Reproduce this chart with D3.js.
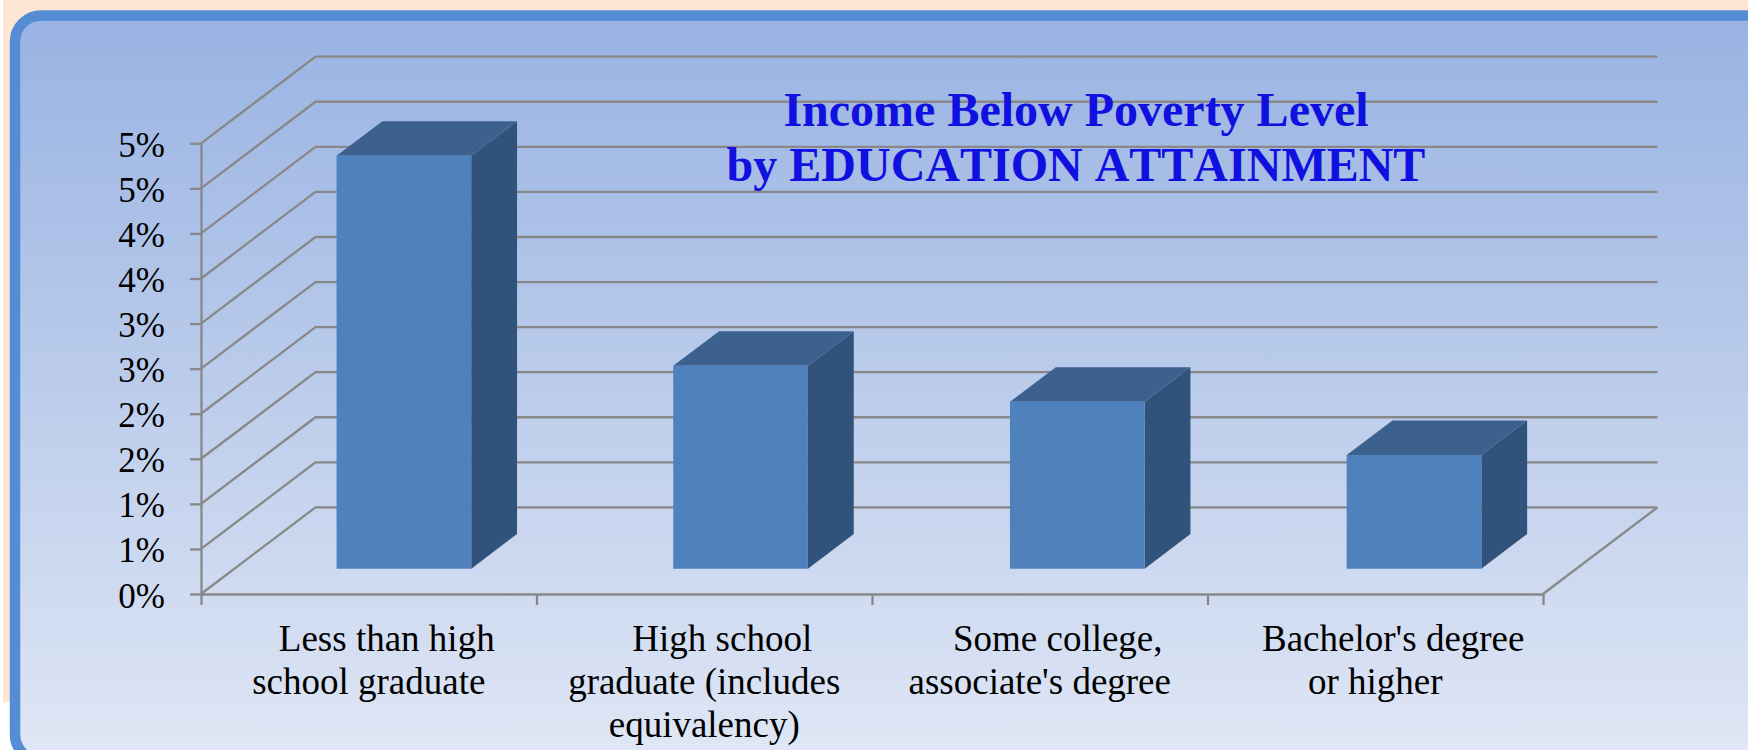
<!DOCTYPE html>
<html>
<head>
<meta charset="utf-8">
<script src="https://cdn.jsdelivr.net/npm/d3@7"></script>
<style>
html,body{margin:0;padding:0;background:#fff;overflow:hidden}
svg{display:block}
text{font-family:"Liberation Serif",serif;font-kerning:none}
</style>
</head>
<body>
<svg id="c" width="1748" height="750"></svg>
<script>
const categories = ["Less than high school graduate","High school graduate (includes equivalency)","Some college, associate's degree","Bachelor's degree or higher"];
const categoryLines = [["Less than high","school graduate"],["High school","graduate (includes","equivalency)"],["Some college,","associate's degree"],["Bachelor's degree","or higher"]];
const values = [4.58,2.25,1.85,1.26];
const yTicks = [0,0.5,1,1.5,2,2.5,3,3.5,4,4.5,5];
const yTickLabels = ["0%","1%","1%","2%","2%","3%","3%","4%","4%","5%","5%"];
const xEdges = [0,1,2,3,4];
const titleLines = ["Income Below Poverty Level","by EDUCATION ATTAINMENT"];

const svg = d3.select("#c");
const W=1748,H=750;
const depthX=114.5, depthY=86.6;
const x0=201, x1=1543, yBottom=594, yTop=143.3;
const x = d3.scaleBand().domain(categories).range([x0+1,x0+1+4*336.7]).paddingInner(0.6).paddingOuter(0.3);
const xEdge = d3.scaleLinear().domain([0,4]).range([x0,x1]);
const y = d3.scaleLinear().domain([0,5]).range([yBottom,yTop]);
const P=(px,py,d)=>[px+d*depthX,py-d*depthY];
const line=d3.line();

const defs=svg.append("defs");
const g=defs.append("linearGradient").attr("id","bg").attr("gradientUnits","userSpaceOnUse")
  .attr("x1",0).attr("y1",20).attr("x2",0).attr("y2",750);
[[0,"#99b3e3"],[0.4,"#b4c7e9"],[1,"#dfe6f5"]].forEach(s=>g.append("stop").attr("offset",s[0]).attr("stop-color",s[1]));

svg.append("rect").attr("x",3).attr("y",0).attr("width",W).attr("height",702).attr("fill","#ffe5d3");
svg.append("rect").attr("x",15).attr("y",15.5).attr("width",1800).attr("height",745).attr("rx",26).attr("ry",26)
  .attr("fill","url(#bg)").attr("stroke","#548dd4").attr("stroke-width",10.5);

const grid="#888888", gw=2.3;
svg.append("g").selectAll("path").data(yTicks).join("path")
  .attr("d",v=>line([[x0,y(v)],P(x0,y(v),1),P(x1,y(v),1)]))
  .attr("fill","none").attr("stroke",grid).attr("stroke-width",gw);
svg.append("path").attr("d",line([[x1,yBottom],P(x1,yBottom,1)])).attr("fill","none").attr("stroke",grid).attr("stroke-width",gw);

const ay=svg.append("g").attr("transform",`translate(${x0},0)`)
  .call(d3.axisLeft(y).tickValues(yTicks).tickSize(11).tickSizeOuter(0).tickPadding(25).tickFormat((d,i)=>yTickLabels[i]));
ay.selectAll("path,line").attr("stroke",grid).attr("stroke-width",gw);
ay.selectAll("text").attr("font-family","Liberation Serif").attr("font-size",35).attr("fill","#000").attr("dy",13).attr("text-anchor","end");
const ax=svg.append("g").attr("transform",`translate(0,${yBottom})`)
  .call(d3.axisBottom(xEdge).tickValues(xEdges).tickSize(11).tickSizeOuter(0).tickFormat(""));
ax.selectAll("path,line").attr("stroke",grid).attr("stroke-width",gw);

const d0=0.293,d1=0.693;
const bars=svg.append("g").selectAll("g").data(categories.map((c,i)=>({c,v:values[i]}))).join("g");
bars.append("path").attr("fill","#31527a").attr("d",b=>{
  const r=x(b.c)+x.bandwidth(),t=y(b.v),z=y(0);
  return line([P(r,z,d0),P(r,z,d1),P(r,t,d1),P(r,t,d0)])+"Z";});
bars.append("path").attr("fill","#3d618f").attr("d",b=>{
  const l=x(b.c),r=l+x.bandwidth(),t=y(b.v);
  return line([P(l,t,d0),P(l,t,d1),P(r,t,d1),P(r,t,d0)])+"Z";});
bars.append("path").attr("fill","#4f81bd").attr("d",b=>{
  const l=x(b.c),r=l+x.bandwidth(),t=y(b.v),z=y(0);
  return line([P(l,z,d0),P(r,z,d0),P(r,t,d0),P(l,t,d0)])+"Z";});

const lab=svg.append("g").attr("font-size",37).attr("fill","#000").attr("text-anchor","middle");
categories.forEach((c,i)=>{
  const cx=xEdge(i+0.5);
  categoryLines[i].forEach((t,j)=>{
    lab.append("text").attr("x",cx+(j===0?18:0)).attr("y",651+j*43).text(t);
  });
});

svg.append("g").attr("font-size",48).attr("font-weight","bold").attr("fill","#1010e0").attr("text-anchor","middle")
  .selectAll("text").data(titleLines).join("text")
  .attr("x",1076).attr("y",(d,i)=>126+i*55).text(d=>d);
</script>
</body>
</html>
